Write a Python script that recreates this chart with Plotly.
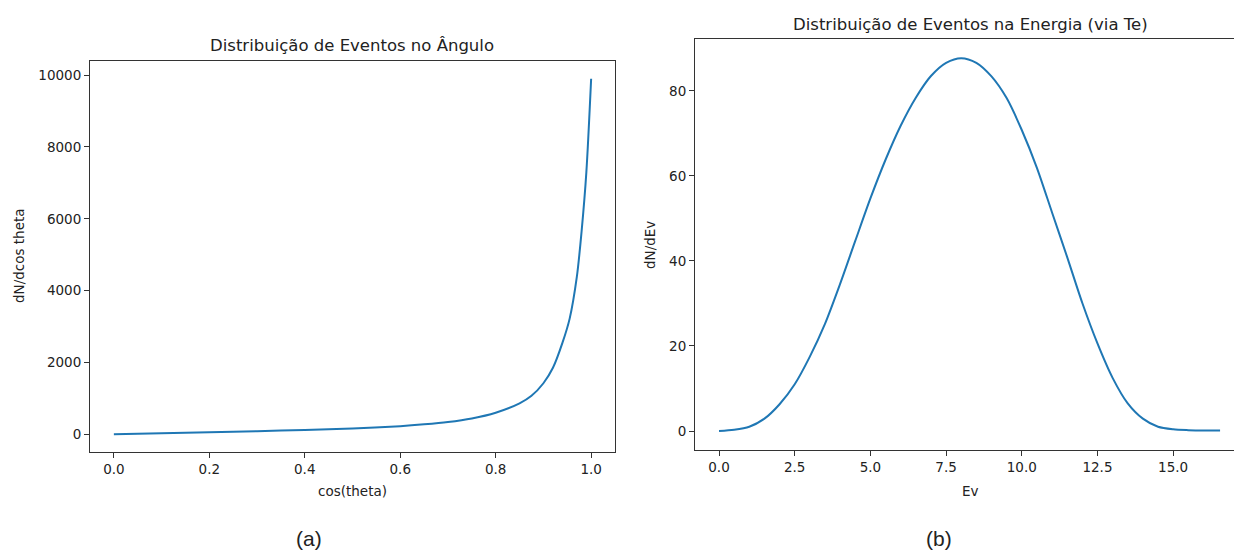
import plotly.graph_objects as go

# Left panel: angular distribution
cos_theta = [0.0, 0.1, 0.2, 0.3, 0.4, 0.5, 0.6, 0.65, 0.7, 0.75, 0.8, 0.85,
             0.875, 0.9, 0.92, 0.94, 0.955, 0.97, 0.98, 0.99, 1.0]
dn_dcos = [0, 25, 55, 85, 118, 160, 225, 275, 340, 440, 600, 860,
           1070, 1420, 1850, 2550, 3220, 4380, 5650, 7300, 9900]

# Right panel: energy distribution
ev = [0, 0.5, 1.0, 1.5, 2.0, 2.5, 3.0, 3.5, 4.0, 4.5, 5.0, 5.5, 6.0, 6.5, 7.0,
      7.5, 8.0, 8.5, 9.0, 9.5, 10.0, 10.5, 11.0, 11.5, 12.0, 12.5, 13.0, 13.5,
      14.0, 14.5, 15.0, 15.5, 16.0, 16.55]
dn_dev = [0, 0.3, 1.0, 2.9, 6.3, 11.0, 17.5, 25.2, 34.6, 44.7, 54.7, 63.8, 71.8,
          78.4, 83.5, 86.6, 87.7, 86.6, 83.4, 78.3, 70.8, 61.9, 51.4, 40.9, 30.1,
          20.6, 12.5, 6.5, 2.9, 1.0, 0.4, 0.2, 0.1, 0.1]

x_ticks_left = [0.0, 0.2, 0.4, 0.6, 0.8, 1.0]
x_tick_text_left = ["0.0", "0.2", "0.4", "0.6", "0.8", "1.0"]
y_ticks_left = [0, 2000, 4000, 6000, 8000, 10000]
y_tick_text_left = ["0", "2000", "4000", "6000", "8000", "10000"]
x_ticks_right = [0.0, 2.5, 5.0, 7.5, 10.0, 12.5, 15.0]
x_tick_text_right = ["0.0", "2.5", "5.0", "7.5", "10.0", "12.5", "15.0"]
y_ticks_right = [0, 20, 40, 60, 80]
y_tick_text_right = ["0", "20", "40", "60", "80"]

W, H = 1234, 551
def px(x):
    return x / W
def py(y):
    return 1 - y / H

BLUE = "#1f77b4"
TXT = "#222222"
FONT = "DejaVu Sans"

fig = go.Figure()
fig.add_trace(go.Scatter(x=cos_theta, y=dn_dcos, mode="lines",
                         line=dict(color=BLUE, width=2, shape="spline", smoothing=0.8),
                         xaxis="x", yaxis="y", showlegend=False))
fig.add_trace(go.Scatter(x=ev, y=dn_dev, mode="lines",
                         line=dict(color=BLUE, width=2, shape="spline", smoothing=0.8),
                         xaxis="x2", yaxis="y2", showlegend=False))

axis_common = dict(showgrid=False, zeroline=False, showline=True, linecolor="#333333",
                   linewidth=1, ticks="outside", ticklen=5, tickwidth=1, tickcolor="#333333",
                   tickfont=dict(family=FONT, size=13.5, color=TXT))

fig.update_layout(
    width=W, height=H, margin=dict(l=0, r=0, t=0, b=0),
    paper_bgcolor="white", plot_bgcolor="white",
    xaxis=dict(domain=[px(90), px(615)], range=[-0.05, 1.05], tickvals=x_ticks_left,
               ticktext=x_tick_text_left, mirror=True, anchor="y", **axis_common),
    yaxis=dict(domain=[py(452), py(61)], range=[-495, 10395], tickvals=y_ticks_left,
               ticktext=y_tick_text_left, mirror=True, anchor="x", **axis_common),
    xaxis2=dict(domain=[px(695), 1.0], range=[-0.793, 17.01], tickvals=x_ticks_right,
                ticktext=x_tick_text_right, mirror=True, anchor="y2", **axis_common),
    yaxis2=dict(domain=[py(450), py(39)], range=[-4.47, 92.2], tickvals=y_ticks_right,
                ticktext=y_tick_text_right, mirror=False, anchor="x2", **axis_common),
)

def ann(text, x, y, size, family=FONT, angle=0):
    fig.add_annotation(text=text, x=px(x), y=py(y), xref="paper", yref="paper",
                       showarrow=False, xanchor="center", yanchor="middle",
                       textangle=angle, font=dict(family=family, size=size, color=TXT))

ann("Distribuição de Eventos no Ângulo", 352, 46, 16.5)
ann("Distribuição de Eventos na Energia (via Te)", 970, 24, 16.5)
ann("cos(theta)", 352, 491, 13.5)
ann("Ev", 970, 491, 13.5)
ann("dN/dcos theta", 19, 256, 13.5, angle=-90)
ann("dN/dEv", 650, 245, 13.5, angle=-90)
ann("(a)", 309, 538, 21, family="Liberation Sans")
ann("(b)", 939, 538, 21, family="Liberation Sans")

fig.write_html("out.html", config={"displayModeBar": False},
               post_script="document.body.style.margin='0px';document.body.style.overflow='hidden';")
